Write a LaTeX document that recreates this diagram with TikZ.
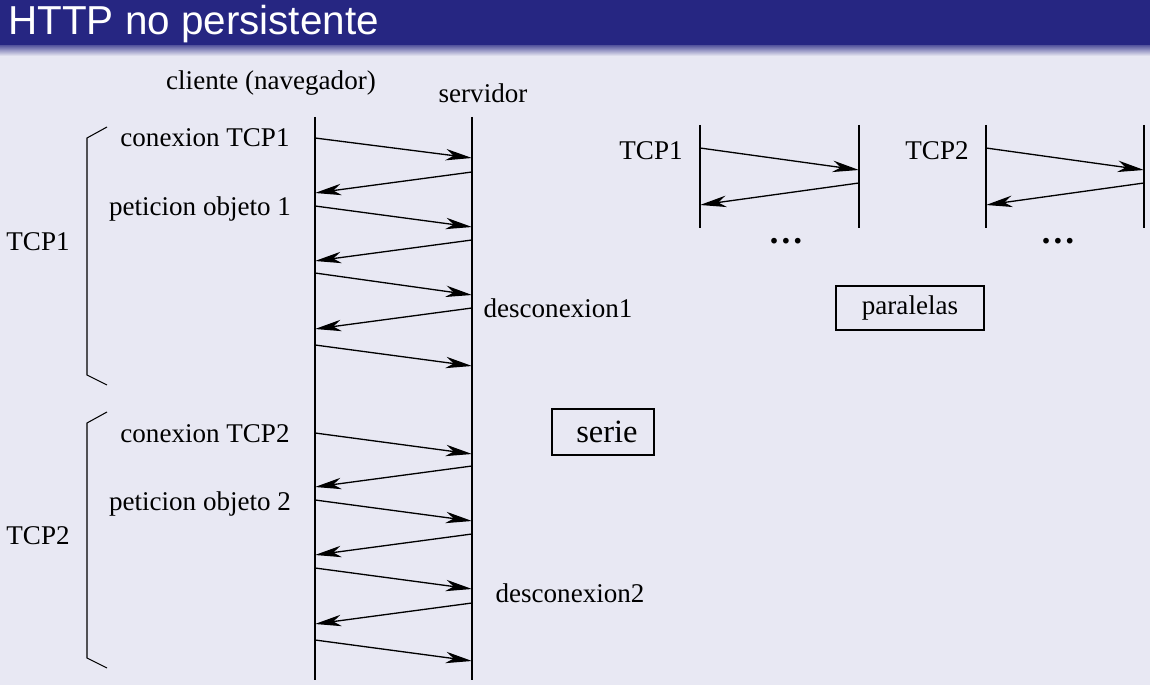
\documentclass[tikz,border=0pt]{standalone}
\usepackage{fontspec}
\setmainfont{Liberation Serif}
\newfontfamily\titlefont{Liberation Sans}
\usetikzlibrary{arrows.meta,positioning}
\definecolor{bgcol}{RGB}{232,232,243}
\definecolor{barcol}{RGB}{38,38,130}

\begin{document}
\begin{tikzpicture}[x=0.02cm,y=-0.02cm,
  msg/.style={-{Stealth[length=15pt,width=6.5pt,inset=4.5pt]},line width=0.75pt},
  life/.style={line width=0.65pt},
  lbl/.style={anchor=base,inner sep=0pt,font=\fontsize{15.4}{17}\selectfont},
  tag/.style={draw,line width=0.6pt,minimum height=0.88cm,inner sep=0pt}]

  % Background and title
  \fill[bgcol] (0,0) rectangle (1150,685);
  \fill[barcol] (0,0) rectangle (1150,46);
  \shade[top color=barcol!70!bgcol,bottom color=bgcol] (0,46) rectangle (1150,56);
  \node[anchor=base west,inner sep=0pt,text=white,
    font=\titlefont\fontsize{23}{26}\selectfont] (title) at (8,35) {HTTP no persistente};

  % Lifelines
  \coordinate (cliT) at (315,117); \coordinate (cliB) at (315,680);
  \coordinate (srvT) at (472,117); \coordinate (srvB) at (472,680);
  \draw[life] (cliT) -- (cliB);
  \draw[life] (srvT) -- (srvB);
  \foreach \i/\x in {1/700, 2/859, 3/986, 4/1144} {
    \coordinate (pT\i) at (\x,125); \coordinate (pB\i) at (\x,228);
    \draw[life] (pT\i) -- (pB\i);
  }

  % Messages
  \foreach \i/\xa/\ya/\xb/\yb in {
      1/315/138/472/158, 2/472/172/315/193, 3/315/206/472/227,
      4/472/240/315/261, 5/315/273/472/295, 6/472/308/315/329,
      7/315/345/472/366, 8/315/433/472/454, 9/472/466/315/487,
      10/315/500/472/521, 11/472/534/315/555, 12/315/568/472/589,
      13/472/603/315/624, 14/315/640/472/661,
      15/700/148/859/170, 16/859/183/700/205,
      17/986/148/1144/170, 18/1144/183/986/205} {
    \coordinate (s\i) at (\xa,\ya);
    \coordinate (e\i) at (\xb,\yb);
    \draw[msg] (s\i) -- (e\i);
  }

  % Brackets
  \draw[line width=0.6pt] (107,127) -- (87,138) -- (87,375) -- (107,385);
  \draw[line width=0.6pt] (107,412) -- (87,423) -- (87,658) -- (107,668);

  % Labels
  \node[lbl] (cli) at (271,90) {cliente (navegador)};
  \node[lbl] (srv) at (483,103) {servidor};
  \node[lbl] (con1) at (205,147) {conexion TCP1};
  \node[lbl] (pet1) at (200,216) {peticion objeto 1};
  \node[lbl] (tcp1) at (38,251) {TCP1};
  \node[lbl] (des1) at (558,318) {desconexion1};
  \node[lbl] (con2) at (205,443) {conexion TCP2};
  \node[lbl] (pet2) at (200,511) {peticion objeto 2};
  \node[lbl] (tcp2) at (38,545) {TCP2};
  \node[lbl] (des2) at (570,603) {desconexion2};
  \node[lbl] (par1) at (651,160) {TCP1};
  \node[lbl] (par2) at (937,160) {TCP2};
  \node[lbl,font=\fontsize{20}{22}\selectfont\bfseries] (dots1) at (786,244) {\dots};
  \node[lbl,font=\fontsize{20}{22}\selectfont\bfseries] (dots2) at (1058,244) {\dots};

  % Boxes
  \node[tag,minimum width=2.96cm,font=\fontsize{15.4}{17}\selectfont] (paral) at (910,308) {paralelas};
  \node[tag,minimum width=2.04cm,minimum height=0.92cm,font=\fontsize{18.5}{20}\selectfont] (serie) at (603,432) {\hspace{4.5pt}serie};
\end{tikzpicture}
\end{document}
